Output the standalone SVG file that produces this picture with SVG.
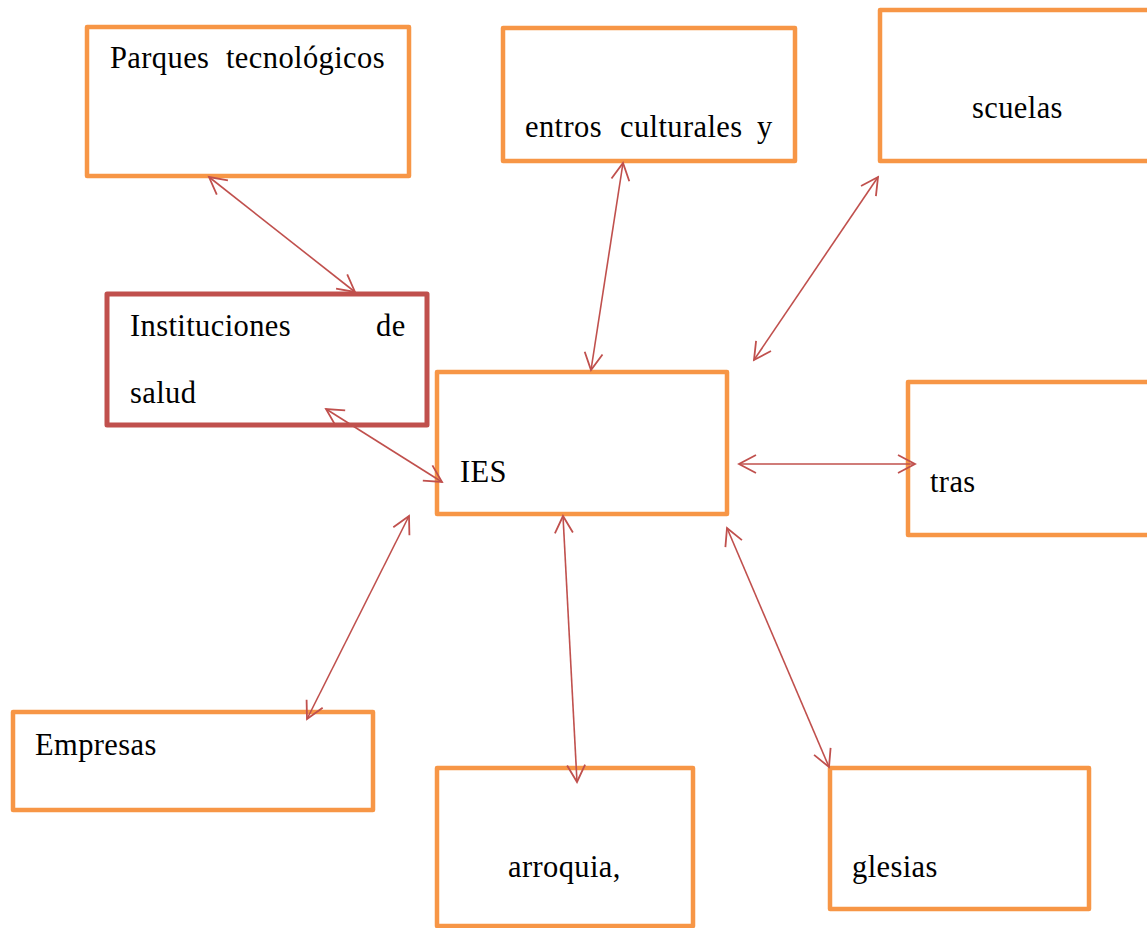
<svg xmlns="http://www.w3.org/2000/svg" width="1147" height="928" viewBox="0 0 1147 928">
<style>
.box{fill:#FFFFFF;stroke:#F79646;stroke-width:4.5;stroke-linejoin:round}
.boxr{fill:#FFFFFF;stroke:#C0504D;stroke-width:5;stroke-linejoin:round}
.t{font-family:"Liberation Serif","DejaVu Serif",serif;font-size:30.5px;letter-spacing:0.4px;fill:#000000}
.c{fill:none;stroke:#C0504D;stroke-width:1.6;marker-start:url(#ah);marker-end:url(#ah)}
</style>
<defs>
<marker id="ah" markerUnits="userSpaceOnUse" markerWidth="40" markerHeight="40" viewBox="-20 -20 40 40" refX="0" refY="0" orient="auto-start-reverse" overflow="visible">
<path d="M-17,-9 L0,0 L-17,9" fill="none" stroke="#C0504D" stroke-width="1.8"/>
</marker>
</defs>
<rect x="0" y="0" width="1147" height="928" fill="#FFFFFF"/>

<g id="parques">
<rect class="box" x="87" y="27" width="322" height="149"/>
<text class="t" y="68"><tspan x="110">Parques</tspan><tspan x="226">tecnológicos</tspan></text>
</g>

<g id="centros">
<rect class="box" x="503" y="28" width="292" height="133"/>
<text class="t" y="137"><tspan x="525">entros</tspan><tspan x="620">culturales</tspan><tspan x="757">y</tspan></text>
</g>

<g id="escuelas">
<rect class="box" x="880" y="10" width="290" height="151"/>
<text class="t" x="972" y="118">scuelas</text>
</g>

<g id="instituciones">
<rect class="boxr" x="107" y="294" width="320" height="131"/>
<text class="t" y="336"><tspan x="130">Instituciones</tspan><tspan x="376">de</tspan></text>
<text class="t" x="130" y="403">salud</text>
</g>

<g id="ies">
<rect class="box" x="437" y="372" width="290" height="142"/>
<text class="t" x="460" y="482">IES</text>
</g>

<g id="otras">
<rect class="box" x="908" y="382" width="260" height="153"/>
<text class="t" x="930" y="492">tras</text>
</g>

<g id="empresas">
<rect class="box" x="13" y="712" width="360" height="98"/>
<text class="t" x="35" y="755">Empresas</text>
</g>

<g id="parroquia">
<rect class="box" x="437" y="768" width="256" height="158"/>
<text class="t" x="508" y="877">arroquia,</text>
</g>

<g id="iglesias">
<rect class="box" x="830" y="768" width="259" height="141"/>
<text class="t" x="852" y="877">glesias</text>
</g>

<g id="connectors">
<line class="c" x1="209" y1="177" x2="355" y2="292"/>
<line class="c" x1="623" y1="163" x2="591" y2="370"/>
<line class="c" x1="878" y1="177" x2="754" y2="360"/>
<line class="c" x1="326" y1="409" x2="442" y2="482"/>
<line class="c" x1="739" y1="464" x2="915" y2="464"/>
<line class="c" x1="409" y1="516" x2="307" y2="719"/>
<line class="c" x1="563" y1="516" x2="577" y2="782"/>
<line class="c" x1="727" y1="528" x2="829" y2="767"/>
</g>
</svg>
